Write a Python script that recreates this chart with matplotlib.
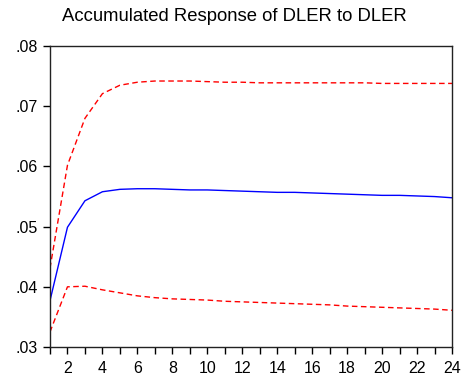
import matplotlib.pyplot as plt
from matplotlib.ticker import FuncFormatter

# Periodos y respuestas acumuladas
periodos = list(range(1, 25))
respuesta = [0.0377, 0.0499, 0.0543, 0.0558, 0.0562, 0.0563, 0.0563, 0.0562,
             0.0561, 0.0561, 0.0560, 0.0559, 0.0558, 0.0557, 0.0557, 0.0556,
             0.0555, 0.0554, 0.0553, 0.0552, 0.0552, 0.0551, 0.0550, 0.0548]
banda_sup = [0.0431, 0.0602, 0.0680, 0.0721, 0.0735, 0.0740, 0.0742, 0.0742,
             0.0742, 0.0741, 0.0740, 0.0740, 0.0739, 0.0739, 0.0739, 0.0739,
             0.0739, 0.0739, 0.0739, 0.0738, 0.0738, 0.0738, 0.0738, 0.0738]
banda_inf = [0.0325, 0.0400, 0.0401, 0.0395, 0.0390, 0.0385, 0.0382, 0.0380,
             0.0379, 0.0378, 0.0376, 0.0375, 0.0374, 0.0373, 0.0372, 0.0371,
             0.0370, 0.0368, 0.0367, 0.0366, 0.0365, 0.0364, 0.0363, 0.0361]

plt.rcParams['font.family'] = ['Liberation Sans', 'DejaVu Sans']

fig = plt.figure(figsize=(4.68, 3.78), dpi=100)
ax = fig.add_axes([0.1068, 0.082, 0.859, 0.796])

ax.plot(periodos, respuesta, color='#0000ff', lw=1.0)
ax.plot(periodos, banda_sup, color='#ff0000', lw=1.0, ls=(0, (4, 2.5)))
ax.plot(periodos, banda_inf, color='#ff0000', lw=1.0, ls=(0, (4, 2.5)))

ax.set_xlim(1, 24)
ax.set_ylim(0.03, 0.08)
ax.set_xticks(periodos)
ax.set_xticklabels([str(p) if p % 2 == 0 else '' for p in periodos])
ax.set_yticks([0.03, 0.04, 0.05, 0.06, 0.07, 0.08])
ax.yaxis.set_major_formatter(FuncFormatter(lambda v, pos: f'{v:.2f}'.lstrip('0')))
ax.tick_params(direction='out', length=5, width=1, labelsize=11.5)
ax.tick_params(axis='x', pad=5)
ax.tick_params(axis='y', pad=3.5)

for lado in ['left', 'bottom', 'top', 'right']:
    ax.spines[lado].set_linewidth(1.0)
    ax.spines[lado].set_color('#222222')

fig.suptitle('Accumulated Response of DLER to DLER', fontsize=13.3, y=0.98)

plt.savefig('out.png', dpi=100)
